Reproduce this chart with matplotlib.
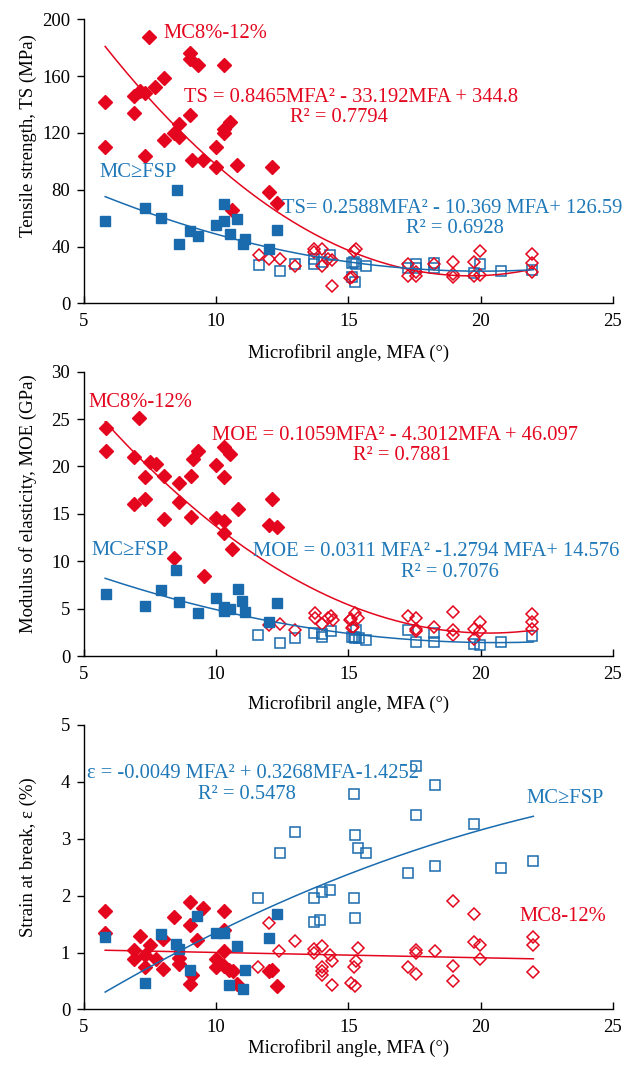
import numpy as np
import matplotlib
matplotlib.use("Agg")
import matplotlib.pyplot as plt

plt.rcParams['font.family'] = ['Liberation Serif', 'DejaVu Serif']

RED = '#e3061e'
BLUE = '#1a6bae'
BLUE_TXT = '#1f78b8'
ANN = 14.8  # annotation font size

# ---------------- Tensile strength ----------------
ts_red_fill_x = [5.8, 5.8, 7.47, 6.9, 6.9, 7.1, 7.3, 7.7, 8.03, 7.3, 8.03, 8.4, 8.6, 8.6, 9.0, 9.0,
                 9.3, 9.0, 9.1, 9.5, 10.0, 10.0, 10.3, 10.3, 10.3, 10.53, 10.8, 10.6, 12.1, 12.0, 12.3]
ts_red_fill_y = [141.8, 110.4, 187.6, 146, 134.3, 149.6, 147.7, 152.4, 158.5, 103.6, 114.9, 120, 126,
                 116.8, 176, 171.9, 167.9, 132.7, 100.8, 100.8, 110.4, 96.1, 167.9, 122.6, 119.6, 128,
                 97.1, 66.1, 95.7, 78.5, 71]
ts_red_open_x = [11.63, 12.0, 12.42, 13.0, 13.7, 13.7, 14.0, 14.0, 14.24, 14.4, 14.4, 15.07, 15.2, 15.3,
                 15.13, 17.24, 17.24, 17.56, 17.56, 18.25, 18.95, 18.95, 18.95, 19.77, 19.97, 19.97,
                 19.77, 21.96, 21.96, 21.96]
ts_red_open_y = [34.2, 31.6, 31, 26.5, 38, 35.9, 38, 26.5, 31.2, 30.5, 12, 17.8, 37, 38.2, 18.3, 27.7,
                 19.5, 21.8, 19.5, 27.7, 29.3, 20.6, 18.8, 29.3, 37, 19.9, 19.5, 34.7, 28.8, 21.8]
ts_blue_fill_x = [5.8, 7.3, 7.9, 8.5, 8.6, 9.0, 9.3, 10.0, 10.3, 10.3, 10.53, 10.8, 11.0, 11.1, 12.0, 12.3]
ts_blue_fill_y = [57.9, 67.5, 59.8, 80, 41.5, 51.1, 47.4, 55.3, 69.9, 57.7, 48.8, 59.3, 41.7, 45.3, 38, 51.6]
ts_blue_open_x = [11.63, 12.42, 13.0, 13.7, 13.7, 14.0, 14.3, 15.13, 15.28, 15.2, 15.13, 15.25, 15.66,
                  17.24, 17.56, 17.56, 18.25, 18.25, 19.77, 19.97, 20.76, 21.96]
ts_blue_open_y = [27.4, 23, 27.7, 31.2, 27.7, 29.3, 34.2, 28.8, 27.7, 29.3, 18.3, 15.2, 26.5, 25.3, 27.7,
                  25.3, 28.4, 25.3, 21.1, 27.7, 23, 23.4]
ts_red_fit = [0.8465, -33.192, 344.8]
ts_blue_fit = [0.2588, -10.369, 126.59]

# ---------------- Modulus of elasticity ----------------
moe_red_fill_x = [5.82, 5.82, 7.09, 6.9, 6.9, 7.49, 7.72, 7.32, 7.32, 8.01, 8.01, 8.42, 8.61, 8.61, 9.03,
                  9.03, 9.11, 9.33, 9.52, 10.0, 10.0, 10.29, 10.29, 10.29, 10.29, 10.53, 10.6, 10.82,
                  12.0, 12.1, 12.3]
moe_red_fill_y = [24.1, 21.6, 25.1, 21.0, 16.0, 20.5, 20.3, 18.9, 16.6, 19.0, 14.5, 10.3, 18.3, 16.3, 19.0,
                  14.7, 20.8, 21.6, 8.4, 20.2, 14.6, 22.1, 18.9, 14.2, 13.0, 21.3, 11.3, 15.5, 13.8,
                  16.6, 13.6]
moe_red_open_x = [12.0, 12.4, 13.0, 13.73, 13.73, 14.0, 14.33, 14.43, 15.1, 15.27, 15.15, 14.24, 15.06,
                  15.38, 15.19, 17.24, 17.56, 17.56, 17.56, 18.25, 18.95, 18.95, 18.95, 19.77, 19.97,
                  19.97, 19.77, 21.96, 21.96, 21.96]
moe_red_open_y = [3.3, 3.4, 2.8, 4.5, 4.0, 3.4, 4.2, 3.8, 3.9, 4.5, 3.0, 4.0, 3.8, 4.0, 3.1, 4.2, 4.0,
                  2.9, 2.6, 3.1, 4.6, 2.7, 2.2, 2.9, 3.6, 2.6, 1.8, 4.4, 3.6, 2.9]
moe_blue_fill_x = [5.82, 7.32, 7.91, 8.48, 8.61, 9.33, 10.0, 10.29, 10.29, 10.53, 10.82, 10.99, 11.1,
                   12.0, 12.3]
moe_blue_fill_y = [6.5, 5.3, 7.0, 9.1, 5.7, 4.5, 6.1, 5.2, 4.7, 5.0, 7.1, 5.8, 4.6, 3.6, 5.6]
moe_blue_open_x = [11.6, 12.4, 13.0, 13.7, 13.99, 13.99, 14.33, 15.2, 15.28, 15.13, 15.25, 15.4, 15.66,
                   17.24, 17.56, 18.25, 18.25, 19.75, 19.97, 20.76, 21.96]
moe_blue_open_y = [2.2, 1.4, 1.9, 2.4, 2.3, 2.0, 2.6, 2.0, 2.8, 2.0, 1.9, 1.9, 1.7, 2.7, 1.5, 2.4, 1.5,
                   1.3, 1.2, 1.5, 2.1]
moe_red_fit = [0.1059, -4.3012, 46.097]
moe_blue_fit = [0.0311, -1.2794, 14.576]

# ---------------- Strain at break ----------------
eps_red_fill_x = [5.8, 5.8, 6.9, 6.9, 7.1, 7.31, 7.31, 7.5, 7.71, 8.0, 8.0, 8.41, 8.6, 8.6, 9.01, 9.01,
                  9.01, 9.1, 9.29, 9.49, 10.0, 10.0, 10.3, 10.3, 10.3, 10.3, 10.47, 10.62, 10.8, 12.0,
                  12.1, 12.3]
eps_red_fill_y = [1.73, 1.35, 1.05, 0.88, 1.29, 0.95, 0.75, 1.14, 0.88, 1.23, 0.71, 1.62, 0.9, 0.8, 1.89,
                  1.49, 0.44, 0.6, 1.22, 1.79, 0.89, 0.74, 1.73, 1.4, 1.03, 0.76, 0.7, 0.67, 0.44, 0.67,
                  0.7, 0.41]
eps_red_open_x = [11.6, 12.0, 12.39, 13.0, 13.7, 13.7, 14.0, 14.0, 14.0, 14.0, 14.29, 14.39, 14.39,
                  15.1, 15.2, 15.29, 15.27, 15.37, 17.25, 17.56, 17.56, 17.56, 18.26, 18.96, 18.96,
                  18.96, 19.76, 19.76, 19.97, 19.97, 21.98, 21.98, 21.98]
eps_red_open_y = [0.75, 1.51, 1.02, 1.21, 1.07, 1.0, 1.12, 0.74, 0.67, 0.61, 0.95, 0.85, 0.43, 0.47,
                  0.74, 0.85, 0.41, 1.08, 0.74, 1.05, 0.99, 0.63, 1.03, 1.91, 0.77, 0.5, 1.67, 1.18,
                  1.13, 0.88, 1.28, 1.13, 0.66]
eps_blue_fill_x = [5.8, 7.31, 7.9, 8.48, 8.6, 9.01, 9.29, 10.0, 10.3, 10.5, 10.8, 11.0, 11.1, 12.0, 12.3]
eps_blue_fill_y = [1.28, 0.47, 1.33, 1.15, 1.07, 0.7, 1.64, 1.35, 1.35, 0.43, 1.11, 0.36, 0.69, 1.26, 1.67]
eps_blue_open_x = [11.6, 12.4, 13.0, 13.7, 13.7, 13.91, 14.0, 14.32, 15.2, 15.27, 15.35, 15.2, 15.27,
                   15.66, 17.25, 17.56, 17.56, 18.26, 18.26, 19.76, 20.76, 21.98]
eps_blue_open_y = [1.95, 2.74, 3.12, 1.95, 1.53, 1.57, 2.07, 2.1, 3.78, 3.06, 2.83, 1.96, 1.61, 2.75,
                   2.39, 4.27, 3.42, 3.95, 2.52, 3.26, 2.48, 2.61]
eps_red_fit = [-0.0093, 1.094]
eps_blue_fit = [-0.0049, 0.3268, -1.4252]

fit_range = (5.8, 22)
xlabel = 'Microfibril angle, MFA (°)'


def scatterPanel(ax, rf, ro, bf, bo):
    ax.plot(bo[0], bo[1], 's', ms=7, mfc='none', mec=BLUE, mew=1.1, ls='none')
    ax.plot(ro[0], ro[1], 'D', ms=6, mfc='none', mec=RED, mew=1.1, ls='none')
    ax.plot(rf[0], rf[1], 'D', ms=6.8, color=RED, ls='none')
    ax.plot(bf[0], bf[1], 's', ms=7.5, color=BLUE, ls='none')


def fitLine(ax, coef, color):
    xs = np.linspace(fit_range[0], fit_range[1], 200)
    ax.plot(xs, np.polyval(coef, xs), color=color, lw=1.1)


def styleAxes(ax, ylim, yticks, ylab, ylab_y, xlab_y):
    ax.set_xlim(5, 25)
    ax.set_ylim(*ylim)
    ax.set_xticks([5, 10, 15, 20, 25])
    ax.set_yticks(yticks)
    for s in ['top', 'right']:
        ax.spines[s].set_visible(False)
    for s in ['left', 'bottom']:
        ax.spines[s].set_linewidth(1.0)
    ax.tick_params(axis='x', direction='in', length=5, width=1, labelsize=13.5, pad=7)
    ax.tick_params(axis='y', direction='out', length=5, width=1, labelsize=13.5, pad=5)
    ax.set_xlabel(xlabel, fontsize=13.5)
    ax.set_ylabel(ylab, fontsize=13.5)
    ax.xaxis.set_label_coords(0.5, xlab_y)
    ax.yaxis.set_label_coords(-0.089, ylab_y)


fig = plt.figure(figsize=(6.4, 10.69), dpi=100)
ax1 = fig.add_axes([0.1313, 0.7161, 0.826, 0.266])
ax2 = fig.add_axes([0.1313, 0.3863, 0.826, 0.266])
ax3 = fig.add_axes([0.1313, 0.0557, 0.826, 0.2663])

# panel 1
scatterPanel(ax1, (ts_red_fill_x, ts_red_fill_y), (ts_red_open_x, ts_red_open_y),
             (ts_blue_fill_x, ts_blue_fill_y), (ts_blue_open_x, ts_blue_open_y))
fitLine(ax1, ts_red_fit, RED)
fitLine(ax1, ts_blue_fit, BLUE)
styleAxes(ax1, (0, 200), [0, 40, 80, 120, 160, 200], 'Tensile strength, TS (MPa)', 0.592, -0.144)
ax1.text(7.99, 190, 'MC8%-12%', color=RED, fontsize=ANN, va='center')
ax1.text(8.78, 145, 'TS = 0.8465MFA² - 33.192MFA + 344.8', color=RED, fontsize=ANN, va='center')
ax1.text(12.79, 131, 'R² = 0.7794', color=RED, fontsize=ANN, va='center')
ax1.text(5.57, 91.8, 'MC≥FSP', color=BLUE_TXT, fontsize=ANN, va='center')
ax1.text(12.49, 67, 'TS= 0.2588MFA² - 10.369 MFA+ 126.59', color=BLUE_TXT, fontsize=ANN, va='center')
ax1.text(17.18, 52.4, 'R² = 0.6928', color=BLUE_TXT, fontsize=ANN, va='center')

# panel 2
scatterPanel(ax2, (moe_red_fill_x, moe_red_fill_y), (moe_red_open_x, moe_red_open_y),
             (moe_blue_fill_x, moe_blue_fill_y), (moe_blue_open_x, moe_blue_open_y))
fitLine(ax2, moe_red_fit, RED)
fitLine(ax2, moe_blue_fit, BLUE)
styleAxes(ax2, (0, 30), [0, 5, 10, 15, 20, 25, 30], 'Modulus of elasticity, MOE (GPa)', 0.535, -0.137)
ax2.text(5.15, 26.8, 'MC8%-12%', color=RED, fontsize=ANN, va='center')
ax2.text(9.84, 23.3, 'MOE = 0.1059MFA² - 4.3012MFA + 46.097', color=RED, fontsize=ANN, va='center')
ax2.text(15.17, 21.2, 'R² = 0.7881', color=RED, fontsize=ANN, va='center')
ax2.text(5.3, 11.1, 'MC≥FSP', color=BLUE_TXT, fontsize=ANN, va='center')
ax2.text(11.39, 11.0, 'MOE = 0.0311 MFA² -1.2794 MFA+ 14.576', color=BLUE_TXT, fontsize=ANN, va='center')
ax2.text(16.99, 8.86, 'R² = 0.7076', color=BLUE_TXT, fontsize=ANN, va='center')

# panel 3
scatterPanel(ax3, (eps_red_fill_x, eps_red_fill_y), (eps_red_open_x, eps_red_open_y),
             (eps_blue_fill_x, eps_blue_fill_y), (eps_blue_open_x, eps_blue_open_y))
fitLine(ax3, eps_red_fit, RED)
fitLine(ax3, eps_blue_fit, BLUE)
styleAxes(ax3, (0, 5), [0, 1, 2, 3, 4, 5], 'Strain at break, ε (%)', 0.536, -0.105)
ax3.text(5.11, 4.15, 'ε = -0.0049 MFA² + 0.3268MFA-1.4252', color=BLUE_TXT, fontsize=ANN, va='center')
ax3.text(9.31, 3.78, 'R² = 0.5478', color=BLUE_TXT, fontsize=ANN, va='center')
ax3.text(21.72, 3.70, 'MC≥FSP', color=BLUE_TXT, fontsize=ANN, va='center')
ax3.text(21.49, 1.64, 'MC8-12%', color=RED, fontsize=ANN, va='center')

fig.savefig('out.png', dpi=100)
